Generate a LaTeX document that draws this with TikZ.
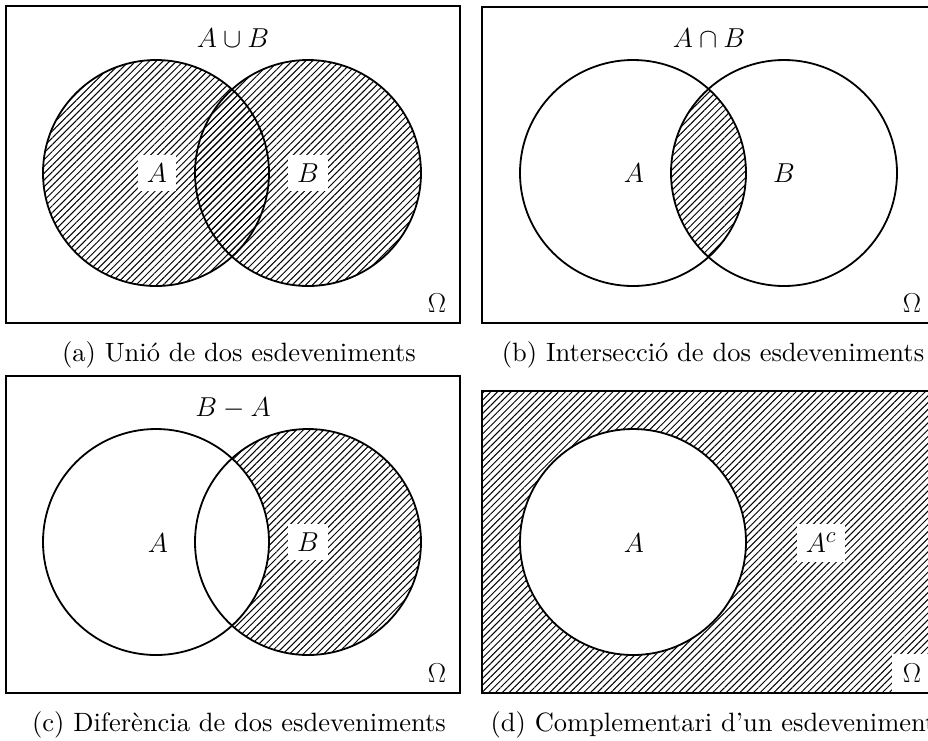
\documentclass[tikz,border=0pt]{standalone}
\usepackage{graphicx}
\usepackage{fontspec}
\setmainfont{lmroman10-regular.otf}[ItalicFont=lmroman10-italic.otf,BoldFont=lmroman10-bold.otf]
\usetikzlibrary{patterns.meta}
\newcommand{\mlab}[1]{\scalebox{1.1}{$#1$}}
\tikzset{
  hatch/.style={pattern={Lines[angle=45,distance=4.8pt,line width=1pt]}},
  setline/.style={line width=1.8pt},
  frame/.style={line width=1.2pt},
  lbl/.style={font=\fontsize{24.88}{30}\selectfont, inner sep=0pt},
  boxlbl/.style={lbl, fill=white, inner xsep=9pt, inner ysep=9pt},
  caplbl/.style={font=\fontsize{26.5}{32}\selectfont, inner sep=0pt},
}
\begin{document}
\begin{tikzpicture}[x=1pt,y=-1pt]
\useasboundingbox (0,0) rectangle (928,740);
\clip (0,0) rectangle (928,740);
\fill[white] (0,0) rectangle (928,740);
% ---------- (a) union ----------
\fill[hatch] (156,173) circle[radius=113];
\fill[hatch] (308,173) circle[radius=113];
\draw[setline] (156,173) circle[radius=113];
\draw[setline] (308,173) circle[radius=113];
\draw[frame] (6,6) rectangle (460,323);
\node[lbl] (aT) at (233,38) {\mlab{A\cup B}};
\node[boxlbl] (aA) at (157,173) {\mlab{A}};
\node[boxlbl] (aB) at (308,173) {\mlab{B}};
\node[lbl] (aO) at (437,303) {\mlab{\Omega}};
\node[caplbl] (aC) at (239,355) {(a) Unió de dos esdeveniments};
% ---------- (b) intersection ----------
\begin{scope}
  \clip (633,173) circle[radius=113];
  \fill[hatch] (784,173) circle[radius=113];
\end{scope}
\draw[setline] (633,173) circle[radius=113];
\draw[setline] (784,173) circle[radius=113];
\draw[frame] (482,7) rectangle (936,323);
\node[lbl] (bT) at (709,38) {\mlab{A\cap B}};
\node[lbl] (bA) at (634,173) {\mlab{A}};
\node[lbl] (bB) at (784,173) {\mlab{B}};
\node[lbl] (bO) at (912,303) {\mlab{\Omega}};
\node[caplbl] (bC) at (713,355) {(b) Intersecció de dos esdeveniments};
% ---------- (c) difference ----------
\fill[hatch] (308,542) circle[radius=113];
\fill[white] (156,542) circle[radius=113];
\draw[setline] (156,542) circle[radius=113];
\draw[setline] (308,542) circle[radius=113];
\draw[frame] (6,376) rectangle (460,693);
\node[lbl] (cT) at (233,408) {\mlab{B-A}};
\node[lbl] (cA) at (158,543) {\mlab{A}};
\node[boxlbl] (cB) at (308,542) {\mlab{B}};
\node[lbl] (cO) at (437,673) {\mlab{\Omega}};
\node[caplbl] (cC) at (239,725) {(c) Diferència de dos esdeveniments};
% ---------- (d) complement ----------
\fill[hatch] (482,391) rectangle (936,693);
\fill[white] (633,542) circle[radius=113];
\draw[setline] (633,542) circle[radius=113];
\node[lbl] (dA) at (634,543) {\mlab{A}};
\node[boxlbl] (dAc) at (821,543) {\mlab{A^c}};
\node[boxlbl, inner ysep=10pt, inner xsep=11pt] (dO) at (912,673) {\mlab{\Omega}};
\draw[frame] (482,391) rectangle (936,693);
\node[caplbl] (dC) at (713,725) {(d) Complementari d’un esdeveniment};
\end{tikzpicture}
\end{document}
